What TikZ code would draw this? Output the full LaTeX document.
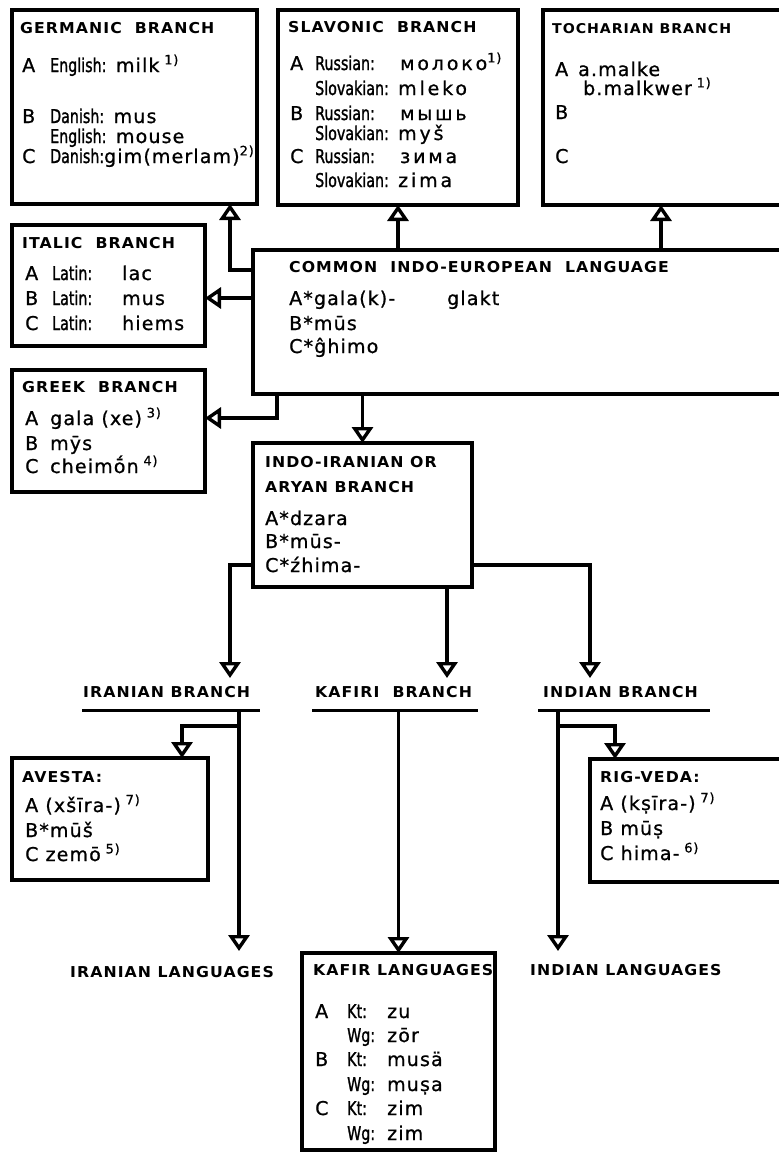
\documentclass[tikz,border=0pt]{standalone}
\usepackage{fontspec}
\setmainfont{DejaVu Sans}[FakeBold=0.9]
\newfontfamily\wordfam[LetterSpace=6,FakeBold=0.9]{DejaVu Sans}
\newfontfamily\namefam[FakeStretch=0.75,FakeBold=1.3]{DejaVu Sans}
\newfontfamily\ttlfam[FakeStretch=1.05,LetterSpace=7]{DejaVu Sans}
\usetikzlibrary{arrows.meta}
\newcommand\bodyf{\wordfam\fontsize{19}{19}\selectfont}
\newcommand\ttlf{\ttlfam\bfseries\fontsize{15}{15}\selectfont}
\newcommand\nm[1]{{\namefam\fontsize{19}{19}\selectfont #1}}
\newcommand\wide[1]{{\addfontfeature{LetterSpace=15}#1}}
\newcommand\fnm[1]{\hspace{0.25em}\raisebox{0.4em}{\fontsize{13}{13}\selectfont #1)}}
\newcommand\fnt[1]{\raisebox{0.4em}{\fontsize{13}{13}\selectfont #1)}}
\newcommand\cl[2]{\makebox[#1][l]{#2}}
\begin{document}
\begin{tikzpicture}[x=1pt,y=-1pt,
  box/.style={draw, line width=3.4pt, anchor=north west, inner sep=0pt, outer sep=0pt},
  t/.style={anchor=base west, inner sep=0pt, font=\bodyf},
  h/.style={anchor=base west, inner sep=0pt, font=\ttlf},
  conn/.style={line width=3.4pt, line join=miter, -{Triangle[open,length=16pt,width=21pt]}},
  rule/.style={line width=3pt}]
\useasboundingbox (0,0) rectangle (779,1154);

% boxes
\node[box, minimum width=245pt, minimum height=194pt] (germanic) at (12,10) {};
\node[box, minimum width=240pt, minimum height=195pt] (slavonic) at (278,10) {};
\node[box, minimum width=260pt, minimum height=195pt] (tocharian) at (543,10) {};
\node[box, minimum width=193pt, minimum height=121pt] (italic) at (12,225) {};
\node[box, minimum width=193pt, minimum height=122pt] (greek) at (12,370) {};
\node[box, minimum width=550pt, minimum height=144pt] (common) at (253,250) {};
\node[box, minimum width=219pt, minimum height=144pt] (indoiran) at (253,443) {};
\node[box, minimum width=196pt, minimum height=122pt] (avesta) at (12,758) {};
\node[box, minimum width=220pt, minimum height=123pt] (rigveda) at (590,759) {};
\node[box, minimum width=193pt, minimum height=197pt] (kafir) at (302,953) {};

% Germanic
\node[h] (g0) at (20,33) {GERMANIC\ \ BRANCH};
\node[t] (g1) at (22,72) {\cl{28pt}{A}\nm{English:} milk\fnm1};
\node[t] (g2) at (22,123) {\cl{28pt}{B}\nm{Danish:} mus};
\node[t] (g3) at (50,143) {\nm{English:} mouse};
\node[t] (g4) at (22,163) {\cl{28pt}{C}\nm{Danish:}gim(merlam)\fnt2};

% Slavonic
\node[h] (s0) at (288,32) {SLAVONIC\ \ BRANCH};
\node[t] (s1) at (290,70) {\cl{25pt}{A}\cl{85pt}{\nm{Russian:}}\wide{молоко}\fnt1};
\node[t] (s2) at (315,95) {\cl{83pt}{\nm{Slovakian:}}\wide{mleko}};
\node[t] (s3) at (290,120) {\cl{25pt}{B}\cl{85pt}{\nm{Russian:}}\wide{мышь}};
\node[t] (s4) at (315,140) {\cl{83pt}{\nm{Slovakian:}}\wide{myš}};
\node[t] (s5) at (290,163) {\cl{25pt}{C}\cl{85pt}{\nm{Russian:}}\wide{зима}};
\node[t] (s6) at (315,187) {\cl{83pt}{\nm{Slovakian:}}\wide{zima}};

% Tocharian
\node[h, font=\ttlfam\bfseries\fontsize{13.5}{13.5}\selectfont] (t0) at (552,33) {TOCHARIAN BRANCH};
\node[t] (t1) at (555,76) {\cl{23pt}{A}a.malke};
\node[t] (t2) at (583,95) {b.malkwer\fnm1};
\node[t] (t3) at (555,119) {B};
\node[t] (t4) at (555,163) {C};

% Italic
\node[h] (i0) at (22,248) {ITALIC\ \ BRANCH};
\node[t] (i1) at (25,280) {\cl{27pt}{A}\cl{70pt}{\nm{Latin:}}lac};
\node[t] (i2) at (25,305) {\cl{27pt}{B}\cl{70pt}{\nm{Latin:}}mus};
\node[t] (i3) at (25,330) {\cl{27pt}{C}\cl{70pt}{\nm{Latin:}}hiems};

% Greek
\node[h] (k0) at (22,392) {GREEK\ \ BRANCH};
\node[t] (k1) at (25,425) {\cl{25pt}{A}gala (xe)\fnm3};
\node[t] (k2) at (25,450) {\cl{25pt}{B}mȳs};
\node[t] (k3) at (25,473) {\cl{25pt}{C}cheimṓn\fnm4};

% Common
\node[h] (c0) at (289,272) {COMMON\ \ INDO-EUROPEAN\ \ LANGUAGE};
\node[t] (c1) at (289,305) {\cl{158pt}{A*gala(k)-}glakt};
\node[t] (c2) at (289,330) {B*mūs};
\node[t] (c3) at (289,353) {C*ĝhimo};

% Indo-Iranian
\node[h] (n0) at (265,467) {INDO-IRANIAN OR};
\node[h] (n1) at (265,492) {ARYAN BRANCH};
\node[t] (n2) at (265,525) {A*dzara};
\node[t] (n3) at (265,548) {B*mūs-};
\node[t] (n4) at (265,572) {C*źhima-};

% branch labels
\node[h] (iranb) at (83,697) {IRANIAN BRANCH};
\node[h] (kafb) at (315,697) {KAFIRI\ \ BRANCH};
\node[h] (indb) at (543,697) {INDIAN BRANCH};
\coordinate (ul) at (0,710);
\draw[rule] (82,710) -- (260,710);
\draw[rule] (312,710) -- (478,710);
\draw[rule] (538,710) -- (710,710);

% Avesta
\node[h] (a0) at (22,782) {AVESTA:};
\node[t] (a1) at (25,812) {A (xšīra-)\fnm7};
\node[t] (a2) at (25,837) {B*mūš};
\node[t] (a3) at (25,861) {C zemō\fnm5};

% Rig-Veda
\node[h] (r0) at (600,782) {RIG-VEDA:};
\node[t] (r1) at (600,810) {A (kṣīra-)\fnm7};
\node[t] (r2) at (600,835) {B mūṣ};
\node[t] (r3) at (600,860) {C hima-\fnm6};

% Kafir
\node[h] (f0) at (313,975) {KAFIR LANGUAGES};
\node[t] (f1) at (315,1018) {\cl{32pt}{A}\cl{40pt}{\nm{Kt:}}zu};
\node[t] (f2) at (347,1042) {\cl{40pt}{\nm{Wg:}}zōr};
\node[t] (f3) at (315,1066) {\cl{32pt}{B}\cl{40pt}{\nm{Kt:}}musä};
\node[t] (f4) at (347,1091) {\cl{40pt}{\nm{Wg:}}muṣa};
\node[t] (f5) at (315,1115) {\cl{32pt}{C}\cl{40pt}{\nm{Kt:}}zim};
\node[t] (f6) at (347,1140) {\cl{40pt}{\nm{Wg:}}zim};

% bottom labels
\node[h] (iranl) at (70,977) {IRANIAN LANGUAGES};
\node[h] (indl) at (530,975) {INDIAN LANGUAGES};

% connectors from common
\coordinate (gm) at (230,270);
\draw[conn] (common.west |- gm) -- (gm) -- (germanic.south -| gm);
\coordinate (itl) at (0,298);
\draw[conn] (common.west |- itl) -- (italic.east |- itl);
\coordinate (gk) at (277,418);
\draw[conn] (common.south -| gk) -- (gk) -- (greek.east |- gk);
\coordinate (sl) at (398,0);
\draw[conn] (common.north -| sl) -- (slavonic.south -| sl);
\coordinate (tc) at (661,0);
\draw[conn] (common.north -| tc) -- (tocharian.south -| tc);
\draw[conn] (common.south -| indoiran.north) -- (indoiran.north);

% from indo-iranian
\coordinate (tipy) at (0,678);
\coordinate (il) at (230,565);
\coordinate (ir) at (590,565);
\coordinate (im) at (447,0);
\draw[conn] (indoiran.west |- il) -- (il) -- (il |- tipy);
\draw[conn] (indoiran.south -| im) -- (im |- tipy);
\draw[conn] (indoiran.east |- ir) -- (ir) -- (ir |- tipy);

% Iranian subtree
\coordinate (lty) at (0,951);
\coordinate (is) at (239,0);
\coordinate (ab) at (182,726);
\draw[conn] (is |- ul) -- (is |- lty);
\draw[conn] (is |- ab) -- (ab) -- (avesta.north -| ab);

% Kafiri
\draw[conn] (kafir.north |- ul) -- (kafir.north);

% Indian subtree
\coordinate (ns) at (558,0);
\coordinate (rb) at (615,726);
\draw[conn] (ns |- ul) -- (ns |- lty);
\draw[conn] (ns |- rb) -- (rb) -- (rigveda.north -| rb);
\end{tikzpicture}
\end{document}
